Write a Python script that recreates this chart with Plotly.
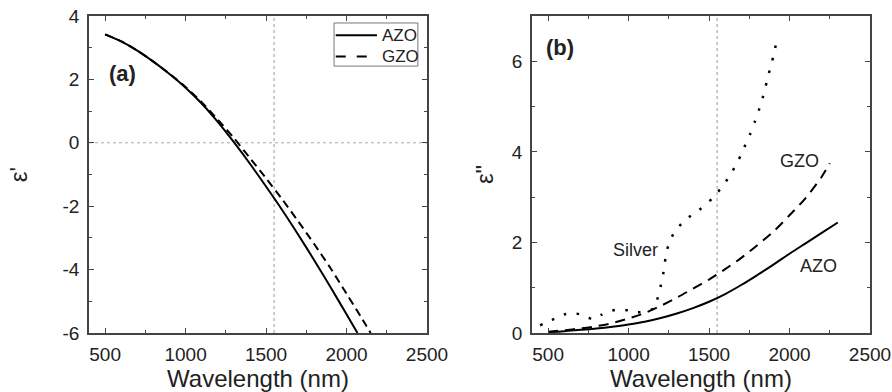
import plotly.graph_objects as go

# ---------- data ----------
# Panel (a): real part of permittivity
wl_a_azo = [500, 600, 700, 800, 900, 1000, 1100, 1200, 1300, 1400, 1500, 1600, 1700, 1800, 1900, 2000, 2068]
eps1_azo = [3.42, 3.20, 2.91, 2.56, 2.17, 1.74, 1.24, 0.66, 0.02, -0.66, -1.38, -2.12, -2.90, -3.71, -4.55, -5.41, -6.0]
wl_a_gzo = [500, 600, 700, 800, 900, 1000, 1100, 1200, 1300, 1400, 1500, 1600, 1700, 1800, 1900, 2000, 2100, 2150]
eps1_gzo = [3.42, 3.20, 2.91, 2.56, 2.18, 1.76, 1.28, 0.73, 0.15, -0.48, -1.12, -1.78, -2.48, -3.20, -3.95, -4.76, -5.58, -6.0]

# Panel (b): imaginary part of permittivity
wl_b_azo = [500, 600, 700, 800, 900, 1000, 1100, 1200, 1300, 1400, 1500, 1600, 1700, 1800, 1900, 2000, 2100, 2200, 2300]
eps2_azo = [0.02, 0.04, 0.07, 0.10, 0.14, 0.19, 0.25, 0.33, 0.43, 0.55, 0.69, 0.86, 1.06, 1.28, 1.51, 1.75, 1.98, 2.21, 2.44]
wl_b_gzo = [500, 600, 700, 800, 900, 1000, 1100, 1200, 1300, 1400, 1500, 1600, 1700, 1800, 1900, 2000, 2100, 2200, 2250]
eps2_gzo = [0.03, 0.06, 0.10, 0.15, 0.22, 0.32, 0.44, 0.60, 0.78, 0.98, 1.18, 1.41, 1.66, 1.94, 2.24, 2.60, 2.98, 3.45, 3.75]
wl_b_ag = [450, 500, 550, 600, 650, 700, 750, 785, 830, 870, 940, 1000, 1050, 1100, 1160, 1175, 1190, 1205, 1215,
           1225, 1240, 1265, 1300, 1360, 1440, 1520, 1590, 1640, 1685, 1720, 1755, 1785, 1812, 1837, 1858, 1878, 1899, 1920]
eps2_ag = [0.17, 0.25, 0.33, 0.41, 0.44, 0.41, 0.34, 0.30, 0.40, 0.47, 0.52, 0.50, 0.46, 0.47, 0.55, 0.70, 0.90, 1.12, 1.30,
           1.55, 1.85, 2.10, 2.30, 2.52, 2.72, 2.97, 3.27, 3.54, 3.83, 4.11, 4.39, 4.67, 4.95, 5.24, 5.54, 5.82, 6.10, 6.45]

telecom_wl = 1550
x_ticks = [500, 1000, 1500, 2000, 2500]
ya_ticks = [-6, -4, -2, 0, 2, 4]
ya_text = ["-6", "-4", "-2", "0", "2", "4"]
yb_ticks = [0, 2, 4, 6]
yb_text = ["0", "2", "4", "6"]
legend_names = ["AZO", "GZO"]

FONT = "Liberation Sans, Arial, sans-serif"
AX = "#444444"
TXT = "#222222"

# layout geometry (pixels)
ML, MR, MT, MB = 89, 22, 16, 59
PW = 892 - ML - MR

fig = go.Figure()
fig.add_trace(go.Scatter(x=wl_a_azo, y=eps1_azo, mode="lines", name=legend_names[0], showlegend=False,
                         line=dict(color="black", width=2, shape="spline", smoothing=0.8), xaxis="x", yaxis="y"))
fig.add_trace(go.Scatter(x=wl_a_gzo, y=eps1_gzo, mode="lines", name=legend_names[1], showlegend=False,
                         line=dict(color="black", width=2, dash="8px,5px", shape="spline", smoothing=0.8),
                         xaxis="x", yaxis="y"))
fig.add_trace(go.Scatter(x=wl_b_azo, y=eps2_azo, mode="lines", showlegend=False,
                         line=dict(color="black", width=2, shape="spline", smoothing=1.0), xaxis="x2", yaxis="y2"))
fig.add_trace(go.Scatter(x=wl_b_gzo, y=eps2_gzo, mode="lines", showlegend=False,
                         line=dict(color="black", width=2, dash="10px,7px", shape="spline", smoothing=0.8),
                         xaxis="x2", yaxis="y2"))
fig.add_trace(go.Scatter(x=wl_b_ag, y=eps2_ag, mode="lines", showlegend=False,
                         line=dict(color="black", width=2.5, dash="2.5px,10.5px", shape="spline", smoothing=0.6),
                         xaxis="x2", yaxis="y2"))

# reference lines
fig.add_shape(type="line", xref="x", yref="y domain", x0=telecom_wl, x1=telecom_wl, y0=0, y1=1,
              line=dict(color="#999999", width=1, dash="dot"), layer="below")
fig.add_shape(type="line", xref="x domain", yref="y", x0=0, x1=1, y0=0, y1=0,
              line=dict(color="#aaaaaa", width=1, dash="dot"), layer="below")
fig.add_shape(type="line", xref="x2", yref="y2 domain", x0=telecom_wl, x1=telecom_wl, y0=0, y1=1,
              line=dict(color="#999999", width=1, dash="dot"), layer="below")

# legend box drawn in panel (a) domain coordinates
fig.add_shape(type="rect", xref="x domain", yref="y domain", x0=0.725, x1=0.973, y0=0.842, y1=0.978,
              line=dict(color="#777777", width=1), fillcolor="white", layer="above")
fig.add_shape(type="line", xref="x domain", yref="y domain", x0=0.730, x1=0.852, y0=0.939, y1=0.939,
              line=dict(color="black", width=2), layer="above")
fig.add_shape(type="line", xref="x domain", yref="y domain", x0=0.730, x1=0.852, y0=0.872, y1=0.872,
              line=dict(color="black", width=2, dash="10px,11px"), layer="above")
for name, yy in zip(legend_names, [0.939, 0.872]):
    fig.add_annotation(text=name, xref="x domain", yref="y domain", x=0.862, y=yy, xanchor="left",
                       yanchor="middle", showarrow=False, font=dict(family=FONT, size=17, color=TXT))

common_x = dict(range=[400, 2500], tickvals=x_ticks, ticks="inside", ticklen=5, tickwidth=1, tickcolor=AX,
                mirror="ticks", showline=True, linecolor=AX, linewidth=1.5, showgrid=False, zeroline=False,
                automargin=False, ticklabelstandoff=3,
                tickfont=dict(family=FONT, size=19, color=TXT),
                minor=dict(dtick=250, tick0=500, ticks="inside", ticklen=3, tickcolor=AX, showgrid=False),
                title=dict(text="Wavelength (nm)", font=dict(family=FONT, size=24, color=TXT), standoff=4))
common_y = dict(ticks="inside", ticklen=5, tickwidth=1, tickcolor=AX, mirror="ticks", showline=True,
                linecolor=AX, linewidth=1.5, showgrid=False, zeroline=False, automargin=False,
                ticklabelstandoff=4,
                tickfont=dict(family=FONT, size=19, color=TXT),
                minor=dict(dtick=1, tick0=0, ticks="inside", ticklen=3, tickcolor=AX, showgrid=False))

fig.update_layout(
    width=892, height=392,
    margin=dict(l=ML, r=MR, t=MT, b=MB),
    paper_bgcolor="white", plot_bgcolor="white",
    font=dict(family=FONT, color=TXT),
    xaxis=dict(domain=[0, 338 / PW], anchor="y", **common_x),
    yaxis=dict(domain=[0, 1], anchor="x", range=[-6, 4], tickvals=ya_ticks, ticktext=ya_text,
               title=dict(text="ε'", font=dict(family=FONT, size=24, color=TXT), standoff=28), **common_y),
    xaxis2=dict(domain=[(532 - ML) / PW, 1], anchor="y2", **common_x),
    yaxis2=dict(domain=[0, 1], anchor="x2", range=[0, 7], tickvals=yb_ticks, ticktext=yb_text,
                title=dict(text='ε"', font=dict(family=FONT, size=24, color=TXT), standoff=11), **common_y),
    showlegend=False,
)

fig.add_annotation(text="<b>(a)</b>", xref="x domain", yref="y domain", x=0.052, y=0.819,
                   xanchor="left", yanchor="middle", showarrow=False, font=dict(family=FONT, size=22, color=TXT))
fig.add_annotation(text="<b>(b)</b>", xref="x2 domain", yref="y2 domain", x=0.036, y=0.90,
                   xanchor="left", yanchor="middle", showarrow=False, font=dict(family=FONT, size=22, color=TXT))
fig.add_annotation(text="Silver", xref="x2", yref="y2", x=1046, y=1.83, showarrow=False,
                   font=dict(family=FONT, size=18, color=TXT))
fig.add_annotation(text="GZO", xref="x2", yref="y2", x=2059, y=3.80, showarrow=False,
                   font=dict(family=FONT, size=18, color=TXT))
fig.add_annotation(text="AZO", xref="x2", yref="y2", x=2177, y=1.48, showarrow=False,
                   font=dict(family=FONT, size=18, color=TXT))

fig.write_html("out.html", config={"displayModeBar": False},
               post_script="document.body.style.margin='0';document.body.style.overflow='hidden';")
